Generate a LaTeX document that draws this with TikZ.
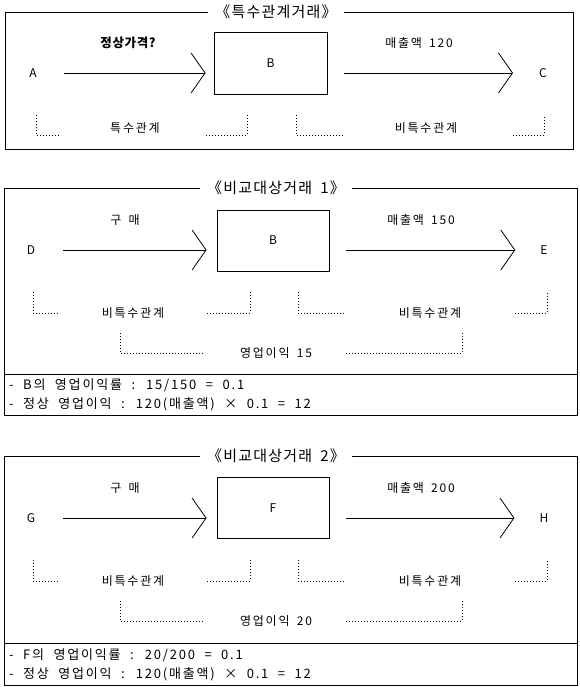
\documentclass[tikz,border=0pt]{standalone}
\usepackage{fontspec}
\usetikzlibrary{arrows.meta}
\newfontfamily\krl[LetterSpace=15,WordSpace=1.6]{Noto Sans CJK KR}
\newfontfamily\krs[LetterSpace=5]{Noto Sans CJK KR}
\newfontfamily\krn[LetterSpace=14,WordSpace=2.0]{Noto Sans CJK KR}
\newfontfamily\krt[LetterSpace=8,WordSpace=1.8]{Noto Sans CJK KR}
\tikzset{
  frame/.style={draw, line width=0.9pt},
  boxnode/.style={draw, line width=0.9pt, inner sep=0pt, font=\krl\fontsize{12}{14}\selectfont},
  lbl/.style={font=\krl\fontsize{12}{14}\selectfont, inner sep=1pt},
  blbl/.style={font=\krs\bfseries\fontsize{12.5}{14}\selectfont, inner sep=1pt},
  note/.style={font=\krn\fontsize{13}{14}\selectfont, inner sep=1pt, anchor=west},
  ttl/.style={font=\krt\fontsize{15}{17}\selectfont, fill=white, inner xsep=7pt, inner ysep=1pt},
  flow/.style={line width=0.8pt, -{Straight Barb[length=14pt,width=40pt,line width=0.8pt]}},
  dots/.style={line width=0.8pt, dash pattern=on 1pt off 2pt}
}
\begin{document}
\begin{tikzpicture}[x=1pt,y=-1pt]
\useasboundingbox (0,0) rectangle (580,687);
% ---------- Panel 1 ----------
\draw[frame] (5.5,12) rectangle (573,149);
\node[ttl] (t1) at (276,12) {《특수관계거래》};
\node[boxnode, minimum width=113pt, minimum height=62pt] (B1) at (270.5,63) {B};
\node[lbl] (A) at (33,73) {A};
\node[lbl] (C) at (543,73) {C};
\draw[flow, shorten <=26pt, shorten >=8pt] (A.east) -- (A.east -| B1.west);
\draw[flow, shorten <=17pt, shorten >=25pt] (C.west -| B1.east) -- (C.west);
\node[blbl] (p1) at (128,43) {정상가격?};
\node[lbl] (s1) at (419,43) {매출액 120};
\draw[dots] (36,115) |- (61,135);
\draw[dots] (206,135) -| (247,115);
\draw[dots] (296,115) |- (344,135);
\draw[dots] (513,135) -| (544,115);
\node[lbl] (r1a) at (135,128) {특수관계};
\node[lbl] (r1b) at (426,128) {비특수관계};
% ---------- Panel 2 ----------
\draw[frame] (4.5,188) rectangle (577,415);
\draw[frame] (4.5,374) -- (577,374);
\node[ttl] (t2) at (276,188) {《비교대상거래 1》};
\node[boxnode, minimum width=112pt, minimum height=61pt] (B2) at (273,240.5) {B};
\node[lbl] (D) at (31,250) {D};
\node[lbl] (E) at (544,250) {E};
\draw[flow, shorten <=27pt, shorten >=10pt] (D.east) -- (D.east -| B2.west);
\draw[flow, shorten <=17pt, shorten >=24pt] (E.west -| B2.east) -- (E.west);
\node[lbl] (g2) at (125,220) {구 매};
\node[lbl] (s2) at (421,220) {매출액 150};
\draw[dots] (33,292) |- (59,313);
\draw[dots] (207,313) -| (250,292);
\draw[dots] (298,292) |- (346,313);
\draw[dots] (515,313) -| (547,292);
\node[lbl] (r2a) at (133,313) {비특수관계};
\node[lbl] (r2b) at (430,313) {비특수관계};
\draw[dots] (120,333) |- (204,353);
\draw[dots] (346,353) -| (462,333);
\node[lbl] (o2) at (276,353) {영업이익 15};
\node[note] (n2a) at (8,385) {- B의 영업이익률 : 15/150 = 0.1};
\node[note] (n2b) at (8,404) {- 정상 영업이익 : 120(매출액) × 0.1 = 12};
% ---------- Panel 3 ----------
\draw[frame] (4.5,456) rectangle (577,685);
\draw[frame] (4.5,643) -- (577,643);
\node[ttl] (t3) at (276,456) {《비교대상거래 2》};
\node[boxnode, minimum width=112pt, minimum height=61pt] (F3) at (273,508) {F};
\node[lbl] (G) at (31,518) {G};
\node[lbl] (H) at (544,518) {H};
\draw[flow, shorten <=27pt, shorten >=10pt] (G.east) -- (G.east -| F3.west);
\draw[flow, shorten <=17pt, shorten >=24pt] (H.west -| F3.east) -- (H.west);
\node[lbl] (g3) at (125,488) {구 매};
\node[lbl] (s3) at (421,488) {매출액 200};
\draw[dots] (33,560) |- (59,581);
\draw[dots] (207,581) -| (250,560);
\draw[dots] (298,560) |- (346,581);
\draw[dots] (515,581) -| (547,560);
\node[lbl] (r3a) at (133,581) {비특수관계};
\node[lbl] (r3b) at (430,581) {비특수관계};
\draw[dots] (120,601) |- (204,621);
\draw[dots] (346,621) -| (462,601);
\node[lbl] (o3) at (276,621) {영업이익 20};
\node[note] (n3a) at (8,655) {- F의 영업이익률 : 20/200 = 0.1};
\node[note] (n3b) at (8,674) {- 정상 영업이익 : 120(매출액) × 0.1 = 12};
\end{tikzpicture}
\end{document}
